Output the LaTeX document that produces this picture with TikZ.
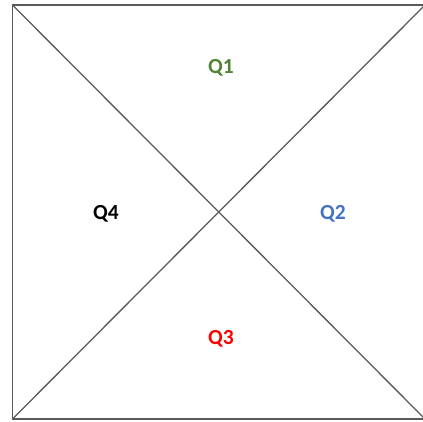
\documentclass[tikz,border=0pt]{standalone}
\usepackage{fontspec}
\setmainfont{Carlito}
\definecolor{qgreen}{RGB}{84,130,53}
\definecolor{qblue}{RGB}{68,114,196}
\definecolor{lineg}{RGB}{90,90,90}
\begin{document}
\begin{tikzpicture}[x=1pt,y=1pt,
  edge/.style={draw=lineg,line width=1.3pt},
  lbl/.style={font=\fontsize{21.5}{23}\selectfont\bfseries,inner sep=0pt}]
\useasboundingbox (0,0) rectangle (423,421);
\coordinate (tl) at (12.5,416);
\coordinate (tr) at (425,416);
\coordinate (bl) at (12.5,2);
\coordinate (br) at (425,2);
\draw[edge] (bl) -- (tl) -- (tr) -- (br) -- cycle;
\draw[edge] (tl) -- (br);
\draw[edge] (bl) -- (tr);
\node[lbl,text=qgreen] (q1) at (221,353.5) {Q1};
\node[lbl,text=qblue] (q2) at (333,207.5) {Q2};
\node[lbl,text=red] (q3) at (221,82.5) {Q3};
\node[lbl,text=black] (q4) at (106,207.5) {Q4};
\end{tikzpicture}
\end{document}
